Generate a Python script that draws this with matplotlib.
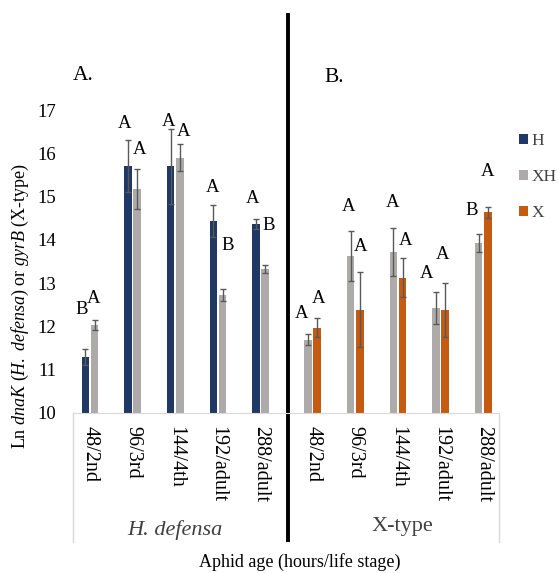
import numpy as np
import matplotlib
matplotlib.use("Agg")
import matplotlib.pyplot as plt

plt.rcParams['font.family'] = ['Liberation Serif', 'DejaVu Serif']
plt.rcParams['mathtext.fontset'] = 'custom'
plt.rcParams['mathtext.rm'] = 'Liberation Serif'
plt.rcParams['mathtext.it'] = 'Liberation Serif:italic'

# DATA
ages = ['48/2nd', '96/3rd', '144/4th', '192/adult', '288/adult']
groups = ['H. defensa', 'X-type']

hdef_H = [11.30, 15.70, 15.70, 14.43, 14.37]
hdef_H_err = [0.18, 0.60, 0.87, 0.37, 0.12]
hdef_XH = [12.03, 15.17, 15.90, 12.72, 13.33]
hdef_XH_err = [0.12, 0.46, 0.32, 0.14, 0.10]

xtype_XH = [11.69, 13.63, 13.72, 12.42, 13.93]
xtype_XH_err = [0.13, 0.58, 0.56, 0.37, 0.21]
xtype_X = [11.97, 12.39, 13.13, 12.38, 14.64]
xtype_X_err = [0.22, 0.86, 0.46, 0.62, 0.13]

# significance letters
hdef_H_letters = ['B', 'A', 'A', 'A', 'A']
hdef_XH_letters = ['A', 'A', 'A', 'B', 'B']
xtype_XH_letters = ['A', 'A', 'A', 'A', 'B']
xtype_X_letters = ['A', 'A', 'A', 'A', 'A']

# where the letters sit (y in axis units, x shift in px)
hdef_H_lab_y = [12.38, 16.69, 16.73, 15.20, 14.96]
hdef_H_lab_dx = [-3.5, -3.8, -2.0, -0.8, -3.5]
hdef_XH_lab_y = [12.65, 16.09, 16.50, 13.86, 14.34]
hdef_XH_lab_dx = [-0.7, 2.1, 3.3, 4.7, 3.5]
xtype_XH_lab_y = [12.30, 14.76, 14.86, 13.22, 14.67]
xtype_XH_lab_dx = [-6.3, -2.3, -0.5, -9.0, -6.8]
xtype_X_lab_y = [12.65, 13.84, 13.98, 13.67, 15.57]
xtype_X_lab_dx = [1.2, 0.7, 3.0, -3.0, 0.0]

C_H = '#1f3864'
C_XH = '#aeaaaa'
C_X = '#c55a11'
ERR = '#595959'

PX = 42.65  # pixels per category step
width = 0.178
off = 0.108

xl = np.arange(len(ages))
xr = np.arange(len(ages)) + 5.22

fig = plt.figure(figsize=(5.58, 5.73), dpi=100)
ax = fig.add_axes([73 / 558, 1 - 413 / 573, 426 / 558, 303 / 573])

ekw = dict(ecolor=ERR, elinewidth=1.0, capsize=2.3, capthick=1.0)
b1 = ax.bar(xl - off, hdef_H, width, color=C_H, yerr=hdef_H_err, error_kw=ekw)
b2 = ax.bar(xl + off, hdef_XH, width, color=C_XH, yerr=hdef_XH_err, error_kw=ekw)
ax.bar(xr - off, xtype_XH, width, color=C_XH, yerr=xtype_XH_err, error_kw=ekw)
b3 = ax.bar(xr + off, xtype_X, width, color=C_X, yerr=xtype_X_err, error_kw=ekw)

def put_letters(xs, letters, ys, dxs):
    for x, t, y, dx in zip(xs, letters, ys, dxs):
        ax.text(x + dx / PX, y, t, ha='center', va='center', fontsize=13.5)

put_letters(xl - off, hdef_H_letters, hdef_H_lab_y, hdef_H_lab_dx)
put_letters(xl + off, hdef_XH_letters, hdef_XH_lab_y, hdef_XH_lab_dx)
put_letters(xr - off, xtype_XH_letters, xtype_XH_lab_y, xtype_XH_lab_dx)
put_letters(xr + off, xtype_X_letters, xtype_X_lab_y, xtype_X_lab_dx)

ax.set_ylim(10, 17)
ax.set_xlim(-17 / PX, (499 - 90) / PX)
ax.set_yticks(range(10, 18))
ax.tick_params(axis='y', length=0, labelsize=13.5, pad=12)
ax.set_xticks(np.concatenate([xl, xr]), ages + ages, rotation=-90)
ax.tick_params(axis='x', length=0, labelsize=14.5, pad=9)
for lab in ax.get_xticklabels():
    lab.set_verticalalignment('top')

for s in ['top', 'right', 'left']:
    ax.spines[s].set_visible(False)
ax.spines['bottom'].set_color('#d9d9d9')

# category box sides
trans = ax.transAxes
ax.plot([0, 0], [0, -129 / 303], color='#d9d9d9', lw=1, transform=trans, clip_on=False)
ax.plot([1, 1], [0, -129 / 303], color='#d9d9d9', lw=1, transform=trans, clip_on=False)

# separator between panels
sep_x = (288 - 90) / PX
blend = matplotlib.transforms.blended_transform_factory(ax.transData, ax.transAxes)
ax.plot([sep_x, sep_x], [400 / 303, -129 / 303], color='black', lw=2.8,
        transform=blend, clip_on=False, solid_capstyle='butt')

# group labels
ax.text(xl.mean(), -117 / 303, groups[0], transform=blend, ha='center', va='center',
        fontsize=16, style='italic', color='#404040')
ax.text(xr.mean() + 0.1, -114 / 303, groups[1], transform=blend, ha='center', va='center',
        fontsize=16, color='#404040')

fig.text(83 / 558, 1 - 75 / 573, 'A.', fontsize=15.5, ha='center', va='center')
fig.text(334 / 558, 1 - 77 / 573, 'B.', fontsize=15.5, ha='center', va='center')

fig.text(300 / 558, 1 - 562 / 573, 'Aphid age (hours/life stage)', fontsize=13,
         ha='center', va='center')
fig.text(20 / 558, 1 - 306 / 573,
         r'Ln $\mathit{dnaK}$ ($\mathit{H.\ defensa}$) or $\mathit{gyrB}$ (X-type)',
         rotation=90, fontsize=13, ha='center', va='center')

fig.legend(handles=[b1, b2, b3], labels=['H', 'XH', 'X'], loc='upper left',
           bbox_to_anchor=(519 / 558, 1 - 133 / 573), frameon=False, fontsize=12.5,
           handlelength=0.5, handleheight=0.5, handletextpad=0.2, labelspacing=1.15,
           borderpad=0, borderaxespad=0, labelcolor='#404040')

fig.savefig('out.png', dpi=100)
